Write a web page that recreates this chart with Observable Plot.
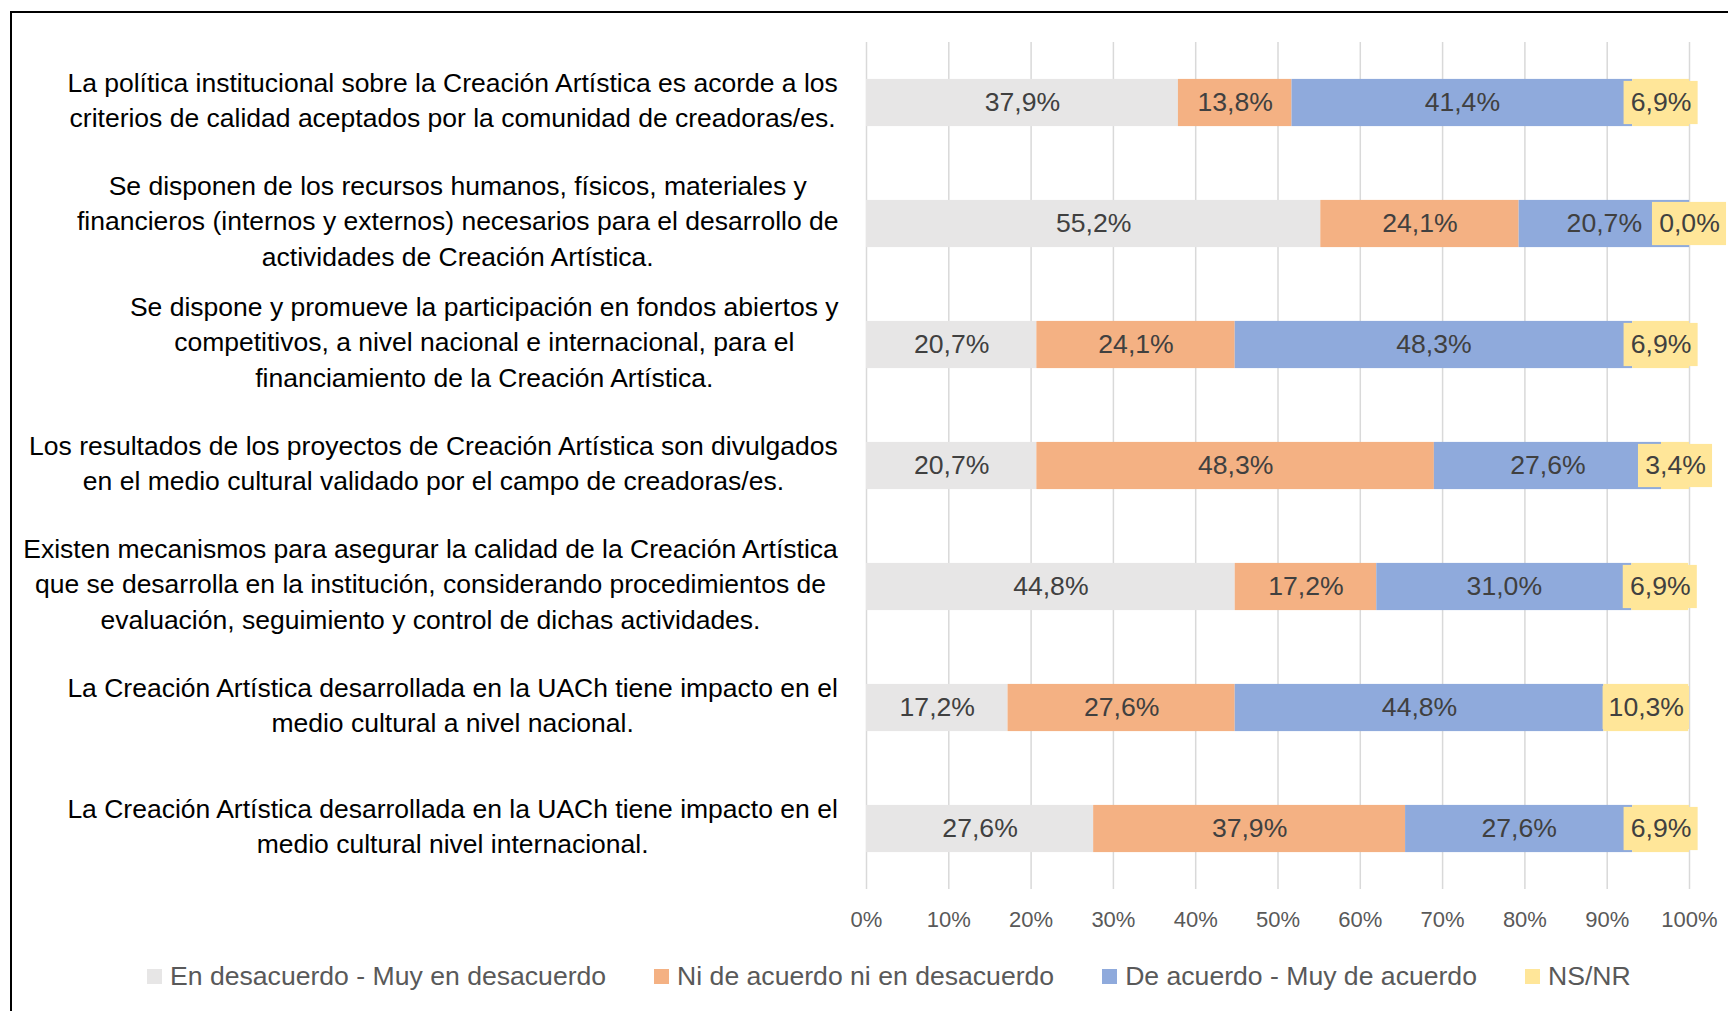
<!DOCTYPE html>
<html><head><meta charset="utf-8">
<script src="https://cdn.jsdelivr.net/npm/d3@7"></script>
<script src="https://cdn.jsdelivr.net/npm/@observablehq/plot@0.6"></script>
<style>
html,body{margin:0;padding:0;background:#fff;width:1728px;height:1011px;overflow:hidden;}
#frame{position:absolute;left:10px;top:11px;width:1780px;height:1060px;border:2px solid #000;box-sizing:border-box;}
#chart{position:absolute;left:0;top:0;}
#legend{position:absolute;left:147px;top:961px;display:flex;align-items:center;font-family:'Liberation Sans Narrow','Arial Narrow',sans-serif;font-size:26.6px;color:#595959;}
.item{display:flex;align-items:center;margin-right:48px;}
.sw{width:15px;height:15px;margin-right:8px;}
</style></head>
<body>
<div id="frame"></div>
<div id="chart"></div>
<div id="legend"></div>
<script>
const FONT = "'Liberation Sans Narrow','Arial Narrow',sans-serif";
const categories = [
 "La política institucional sobre la Creación Artística es acorde a los\ncriterios de calidad aceptados por la comunidad de creadoras/es.",
 "Se disponen de los recursos humanos, físicos, materiales y\nfinancieros (internos y externos) necesarios para el desarrollo de\nactividades de Creación Artística.",
 "Se dispone y promueve la participación en fondos abiertos y\ncompetitivos, a nivel nacional e internacional, para el\nfinanciamiento de la Creación Artística.",
 "Los resultados de los proyectos de Creación Artística son divulgados\nen el medio cultural validado por el campo de creadoras/es.",
 "Existen mecanismos para asegurar la calidad de la Creación Artística\nque se desarrolla en la institución, considerando procedimientos de\nevaluación, seguimiento y control de dichas actividades.",
 "La Creación Artística desarrollada en la UACh tiene impacto en el\nmedio cultural a nivel nacional.",
 "La Creación Artística desarrollada en la UACh tiene impacto en el\nmedio cultural nivel internacional."
];
const seriesNames = ["En desacuerdo - Muy en desacuerdo","Ni de acuerdo ni en desacuerdo","De acuerdo - Muy de acuerdo","NS/NR"];
const enDesacuerdo = [37.9, 55.2, 20.7, 20.7, 44.8, 17.2, 27.6];
const niDeAcuerdo  = [13.8, 24.1, 24.1, 48.3, 17.2, 27.6, 37.9];
const deAcuerdo    = [41.4, 20.7, 48.3, 27.6, 31.0, 44.8, 27.6];
const nsnr         = [6.9, 0.0, 6.9, 3.4, 6.9, 10.3, 6.9];
const xTicks = [0,10,20,30,40,50,60,70,80,90,100];
const colors = ["#E7E6E6","#F4B183","#8FAADC","#FFE699"];

const W = 1728, ML = 866, MR = 39;
const pxPerUnit = (W - ML - MR) / 100;
const CAT_FS = 26.5;

const seriesValues = [enDesacuerdo, niDeAcuerdo, deAcuerdo, nsnr];
const fmt = v => d3.format(".1f")(v).replace(".", ",") + "%";
const rows = [];
categories.forEach((c, i) => {
  let acc = 0;
  seriesValues.forEach((vals, s) => {
    const v = vals[i];
    rows.push({cat: c, series: seriesNames[s], value: v, x1: acc, x2: acc + v, mid: acc + v / 2, label: fmt(v), s});
    acc += v;
  });
});
const nsRows = rows.filter(d => d.s === 3);
const boxW = d => 3 + 1.5 * d.label.length;

// measure widest line of each category label so the centred block ends just left of the plot
const ctx = document.createElement("canvas").getContext("2d");
ctx.font = `${CAT_FS}px ${FONT}`;
const labelRows = categories.map(c => {
  const w = d3.max(c.split("\n"), l => ctx.measureText(l).width);
  return {cat: c, xpos: -(w / 2 + 28) / pxPerUnit};
});

const chart = Plot.plot({
  width: W, height: 945,
  marginLeft: ML, marginRight: MR, marginTop: 42, marginBottom: 56,
  style: {fontFamily: FONT, background: "transparent"},
  x: {domain: [0, 100]},
  y: {domain: categories, paddingInner: 0.61, paddingOuter: 0.305, round: false, axis: null},
  color: {domain: seriesNames, range: colors},
  marks: [
    Plot.gridX(xTicks, {stroke: "#D9D9D9", strokeOpacity: 1, strokeWidth: 1.5}),
    Plot.barX(rows, {x1: "x1", x2: "x2", y: "cat", fill: "series"}),
    Plot.barX(nsRows, {x1: d => d.mid - boxW(d) / 2, x2: d => d.mid + boxW(d) / 2, y: "cat", fill: colors[3], insetTop: 2, insetBottom: 2}),
    Plot.text(rows, {x: "mid", y: "cat", text: "label", fill: "#404040", fontSize: 26.6, dy: -1}),
    Plot.axisX(xTicks, {tickSize: 0, tickPadding: 22, fontSize: 22, color: "#595959", tickFormat: d => d + "%"}),
    Plot.text(labelRows, {x: "xpos", y: "cat", text: "cat", textAnchor: "middle", lineHeight: 1.35, fontSize: CAT_FS, fill: "#000", dy: -5})
  ]
});
document.getElementById("chart").append(chart);

const legend = document.getElementById("legend");
seriesNames.forEach((n, i) => {
  const it = document.createElement("div"); it.className = "item";
  const sw = document.createElement("div"); sw.className = "sw"; sw.style.background = colors[i];
  const tx = document.createElement("span"); tx.textContent = n;
  it.append(sw, tx); legend.append(it);
});
</script>
</body></html>
